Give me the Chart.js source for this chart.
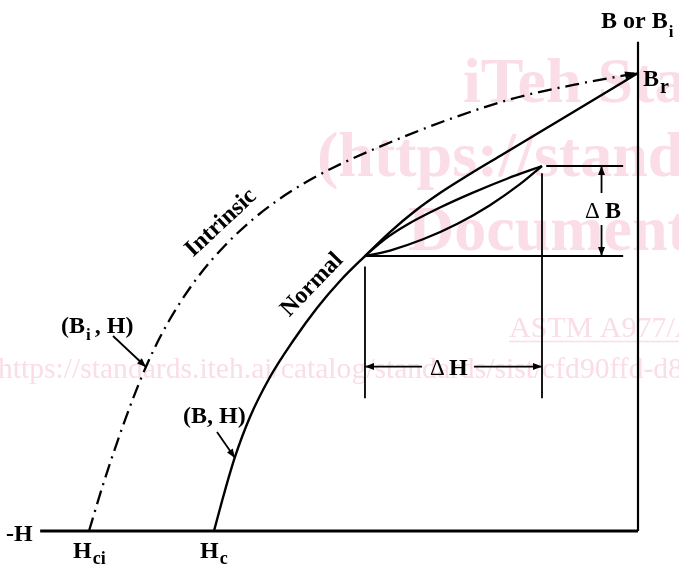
<!DOCTYPE html>
<html>
<head>
<meta charset="utf-8">
<script src="https://cdn.jsdelivr.net/npm/chart.js@4.4.0/dist/chart.umd.min.js"></script>
<style>
  html, body { margin: 0; padding: 0; background: #fff; }
  #wrap { width: 679px; height: 567px; position: relative; }
</style>
</head>
<body>
<div id="wrap"><canvas id="bh-chart"></canvas></div>
<script>
// demagnetization curves, arbitrary units (Hc = -100, Br = 100)
const normalH = [-100, -97.64, -95.05, -91.51, -86.79, -81.37, -75.71, -70.28, -64.39, -58.49, -52.59, -46.70, -39.62, -32.55, -23.11, -11.32, 0];
const normalB = [0, 8.08, 16.16, 24.89, 33.62, 41.48, 48.69, 54.59, 60.04, 65.28, 69.87, 73.80, 77.95, 81.88, 87.12, 93.67, 100];

const intrinsicH = [-129.48, -126.18, -122.64, -119.10, -116.04, -112.74, -108.73, -103.30, -97.41, -91.51, -85.14, -78.54, -71.93, -61.56, -44.34, -28.54, -12.97, 0];
const intrinsicB = [0, 10.09, 19.91, 28.91, 35.87, 42.29, 48.80, 56.07, 62.34, 67.51, 72.12, 76.03, 79.32, 83.65, 89.96, 94.65, 97.82, 100];

// minor recoil loop
const recoilUpH = [-64.39, -59.67, -54.48, -46.70, -38.92, -30.90, -22.64];
const recoilUpB = [60.04, 63.76, 66.88, 70.63, 73.89, 76.92, 79.69];
const recoilLoH = [-64.39, -58.49, -50.71, -42.69, -34.91, -27.83, -22.64];
const recoilLoB = [60.04, 61.24, 63.69, 67.03, 71.14, 75.72, 79.69];

// construction lines
const dimEndH = -3.5;      // right end of the horizontal guide lines
const dimLowB = 29.0;      // lower end of the vertical guide lines
const dBarrowH = -8.6;     // delta B dimension
const dHarrowB = 35.9;     // delta H dimension
const axisMinH = -141;
const axisMaxB = 106.8;

const pts = (hs, bs) => hs.map((h, i) => ({ x: h, y: bs[i] }));
const recoilH = recoilUpH[0], recoilB = recoilUpB[0];
const tipH = recoilUpH[recoilUpH.length - 1], tipB = recoilUpB[recoilUpB.length - 1];

const serif = '"Liberation Serif", "Times New Roman", serif';

function arrowHead(ctx, x1, y1, x2, y2, len, half) {
  const a = Math.atan2(y2 - y1, x2 - x1);
  ctx.beginPath();
  ctx.moveTo(x2, y2);
  ctx.lineTo(x2 - len * Math.cos(a) + half * Math.sin(a), y2 - len * Math.sin(a) - half * Math.cos(a));
  ctx.lineTo(x2 - len * Math.cos(a) - half * Math.sin(a), y2 - len * Math.sin(a) + half * Math.cos(a));
  ctx.closePath();
  ctx.fill();
}
function arrow(ctx, x1, y1, x2, y2) {
  ctx.beginPath();
  ctx.moveTo(x1, y1);
  ctx.lineTo(x2, y2);
  ctx.stroke();
  arrowHead(ctx, x1, y1, x2, y2, 9, 3.5);
}
function subText(ctx, main, sub, x, y, subDy, mainSize, subSize) {
  ctx.font = 'bold ' + mainSize + 'px ' + serif;
  ctx.fillText(main, x, y);
  const w = ctx.measureText(main).width;
  ctx.font = 'bold ' + subSize + 'px ' + serif;
  ctx.fillText(sub, x + w + 1, y + subDy);
  return x + w + 1 + ctx.measureText(sub).width;
}

const diagram = {
  id: 'diagram',
  beforeDatasetsDraw(chart) {
    const ctx = chart.ctx;
    ctx.save();
    ctx.fillStyle = '#fadde6';
    ctx.strokeStyle = '#fadde6';
    ctx.textBaseline = 'alphabetic';
    ctx.font = 'bold 64px ' + serif;
    ctx.fillText('iTeh Standards', 463, 102);
    ctx.fillText('(https://standards.iteh.ai)', 317, 176);
    ctx.fillText('Document Preview', 408, 250);
    ctx.font = '30px ' + serif;
    ctx.fillText('ASTM A977/A977M-07', 509, 337);
    ctx.lineWidth = 1.5;
    ctx.beginPath();
    ctx.moveTo(509, 341.5);
    ctx.lineTo(679, 341.5);
    ctx.stroke();
    ctx.font = '29.6px ' + serif;
    ctx.fillText('https://standards.iteh.ai/catalog/standards/sist/cfd90ffd-d8', -2, 378);
    ctx.restore();
  },
  afterDatasetsDraw(chart) {
    const { ctx, scales: { x, y } } = chart;
    const px = v => x.getPixelForValue(v), py = v => y.getPixelForValue(v);
    ctx.save();
    ctx.fillStyle = '#000';
    ctx.strokeStyle = '#000';
    ctx.lineWidth = 1.8;

    // arrow head at Br
    const n = intrinsicH.length;
    arrowHead(ctx, px(intrinsicH[n - 2]), py(intrinsicB[n - 2]), px(0), py(100), 13, 4);

    // delta B dimension
    const xb = px(dBarrowH), yT = py(tipB), yB = py(recoilB);
    arrow(ctx, xb, 193, xb, yT);
    arrow(ctx, xb, 225, xb, yB);
    // delta H dimension
    const yh = py(dHarrowB), xl = px(recoilH), xr = px(tipH);
    arrow(ctx, 422, yh, xl, yh);
    arrow(ctx, 474, yh, xr, yh);

    // leader arrows
    arrow(ctx, 113, 336, 146, 367);
    arrow(ctx, 217, 432, 235, 458);

    ctx.textBaseline = 'alphabetic';
    ctx.textAlign = 'left';
    ctx.font = '23px ' + serif;
    ctx.fillText('\u0394', 585, 218);
    ctx.fillText('\u0394', 430, 375);
    ctx.font = 'bold 24px ' + serif;
    ctx.fillText('B', 605, 218);
    ctx.fillText('H', 449, 375);

    subText(ctx, 'B or B', 'i', 601, 28, 9, 24, 17);
    subText(ctx, 'B', 'r', 643, 86, 7, 24, 20);
    ctx.font = 'bold 24px ' + serif;
    ctx.fillText('-H', 6, 541);
    subText(ctx, 'H', 'ci', 73, 558, 6, 24, 18);
    subText(ctx, 'H', 'c', 200, 558, 6, 24, 18);
    const e = subText(ctx, '(B', 'i', 61, 333, 7, 24, 17);
    ctx.font = 'bold 24px ' + serif;
    ctx.fillText(' , H)', e - 2, 333);
    ctx.fillText('(B, H)', 183, 423);

    ctx.textAlign = 'center';
    ctx.textBaseline = 'middle';
    ctx.save();
    ctx.translate(221, 223);
    ctx.rotate(-43 * Math.PI / 180);
    ctx.fillText('Intrinsic', 0, 0);
    ctx.restore();
    ctx.save();
    ctx.translate(312, 285);
    ctx.rotate(-46 * Math.PI / 180);
    ctx.fillText('Normal', 0, 0);
    ctx.restore();

    ctx.restore();
  }
};

const line = (data, width, extra) => Object.assign({
  data, showLine: true, borderColor: '#000', borderWidth: width,
  pointRadius: 0, fill: false, clip: false, tension: 0
}, extra || {});
const smooth = { cubicInterpolationMode: 'monotone' };

new Chart(document.getElementById('bh-chart'), {
  type: 'scatter',
  data: {
    datasets: [
      line([{ x: axisMinH, y: 0 }, { x: 0, y: 0 }], 3),
      line([{ x: 0, y: 0 }, { x: 0, y: axisMaxB }], 2.2),
      line(pts(intrinsicH, intrinsicB), 2.3, Object.assign({ borderDash: [14, 6, 2, 6] }, smooth)),
      line(pts(normalH, normalB), 2.4, smooth),
      line(pts(recoilUpH, recoilUpB), 2.3, smooth),
      line(pts(recoilLoH, recoilLoB), 2.3, smooth),
      line([{ x: recoilH, y: recoilB }, { x: dimEndH, y: recoilB }], 1.8),
      line([{ x: tipH + 1, y: tipB }, { x: dimEndH, y: tipB }], 1.8),
      line([{ x: recoilH, y: recoilB - 2.3 }, { x: recoilH, y: dimLowB }], 1.8),
      line([{ x: tipH, y: tipB - 1.6 }, { x: tipH, y: dimLowB }], 1.8)
    ]
  },
  options: {
    responsive: true,
    maintainAspectRatio: false,
    animation: false,
    layout: { padding: 0 },
    plugins: { legend: { display: false }, tooltip: { enabled: false } },
    scales: {
      x: { type: 'linear', display: false, min: -150.47, max: 9.67 },
      y: { type: 'linear', display: false, min: -7.86, max: 115.94 }
    }
  },
  plugins: [diagram]
});
</script>
</body>
</html>
